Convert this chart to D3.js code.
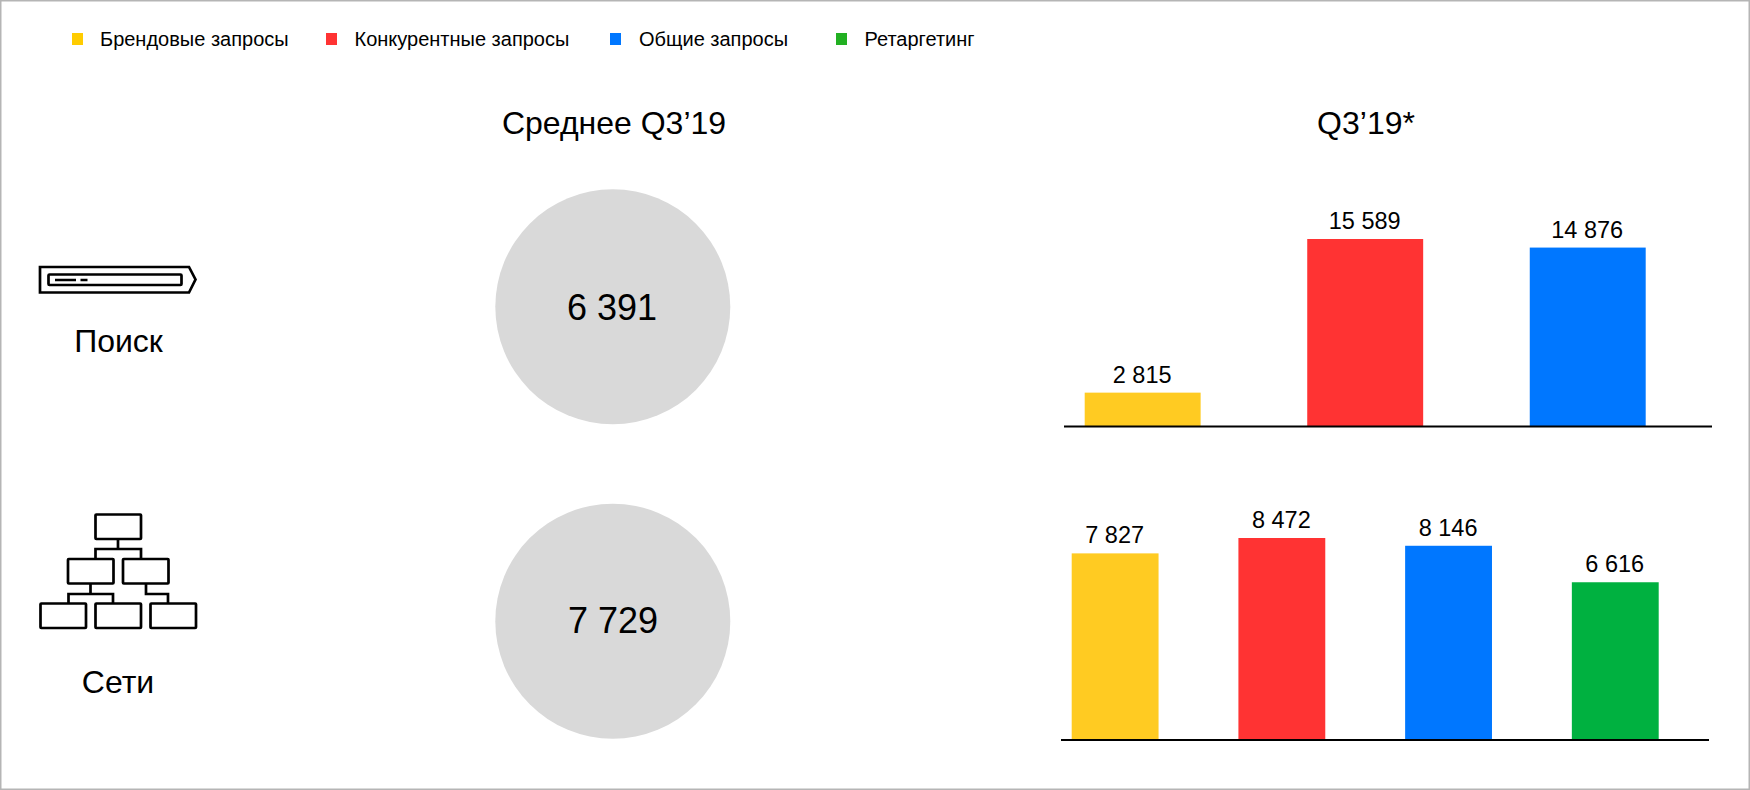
<!DOCTYPE html>
<html><head><meta charset="utf-8">
<script src="https://cdn.jsdelivr.net/npm/d3@7"></script>
<style>
html,body{margin:0;padding:0;background:#fff}
svg{display:block}
text{font-family:"Liberation Sans",Arial,sans-serif;fill:#000}
</style></head><body>
<svg id="c" width="1750" height="790"></svg>
<script>
const legendLabels=["Брендовые запросы","Конкурентные запросы","Общие запросы","Ретаргетинг"];
const legendColors=["#ffcc00","#ff3333","#0077ff","#22b022"];
const searchCats=["Брендовые запросы","Конкурентные запросы","Общие запросы"];
const searchValues=[2815,15589,14876];
const searchColors=["#ffcb22","#ff3333","#0077ff"];
const netCats=["Брендовые запросы","Конкурентные запросы","Общие запросы","Ретаргетинг"];
const netValues=[7827,8472,8146,6616];
const netColors=["#ffcb22","#ff3333","#0077ff","#00b140"];
const avgValues=[6391,7729];
const rowNames=["Поиск","Сети"];
const titles=["Среднее Q3’19","Q3’19*"];

const fmt=d=>d3.format(",")(d).replace(/,/g," ");
const svg=d3.select("#c");
svg.append("rect").attr("x",.75).attr("y",.75).attr("width",1748.5).attr("height",788.5)
  .attr("fill","#fff").attr("stroke","#b5b5b5").attr("stroke-width",1.5);

// legend
const legendX=d3.scaleOrdinal().domain(legendLabels).range([72,326,610,836]);
const legendTextX=d3.scaleOrdinal().domain(legendLabels).range([100,354.5,639,864.5]);
const lg=svg.append("g");
lg.selectAll("rect").data(legendLabels).join("rect")
  .attr("x",d=>legendX(d)).attr("y",33).attr("width",11).attr("height",12)
  .attr("fill",(d,i)=>legendColors[i]);
lg.selectAll("text").data(legendLabels).join("text")
  .attr("x",d=>legendTextX(d)).attr("y",45.5).attr("font-size",20).text(d=>d);

// titles
svg.selectAll("text.title").data(titles).join("text").attr("class","title")
  .attr("x",(d,i)=>[614,1366][i]).attr("y",134).attr("text-anchor","middle")
  .attr("font-size",32).text(d=>d);

// row names
svg.selectAll("text.row").data(rowNames).join("text").attr("class","row")
  .attr("x",(d,i)=>[118.5,118][i]).attr("y",(d,i)=>[352,693][i]).attr("text-anchor","middle")
  .attr("font-size",32).text(d=>d);

// circles
svg.selectAll("circle.avg").data(avgValues).join("circle").attr("class","avg")
  .attr("cx",612.8).attr("cy",(d,i)=>[306.8,621.2][i]).attr("r",117.5).attr("fill","#d9d9d9");
svg.selectAll("text.avg").data(avgValues).join("text").attr("class","avg")
  .attr("x",(d,i)=>[612,613][i]).attr("y",(d,i)=>[320,633][i]).attr("text-anchor","middle")
  .attr("font-size",36).text(fmt);

// bars
function bars(cats,vals,cols,xr,base,line,maxV,maxH){
  const x=d3.scaleBand().domain(cats).range(xr).paddingInner(.479).paddingOuter(0);
  const y=d3.scaleLinear().domain([0,maxV]).range([base,base-maxH]);
  const g=svg.append("g");
  g.selectAll("rect").data(vals).join("rect")
    .attr("x",(d,i)=>x(cats[i])).attr("width",x.bandwidth())
    .attr("y",d=>y(d)).attr("height",d=>base-y(d)).attr("fill",(d,i)=>cols[i]);
  g.selectAll("text").data(vals).join("text")
    .attr("x",(d,i)=>x(cats[i])+x.bandwidth()/2-.5).attr("y",d=>y(d)-10)
    .attr("text-anchor","middle").attr("font-size",23.5).text(fmt);
  g.append("line").attr("x1",line[0]).attr("x2",line[1]).attr("y1",base).attr("y2",base)
    .attr("stroke","#000").attr("stroke-width",2);
}
bars(searchCats,searchValues,searchColors,[1084.7,1645.7],426.5,[1064,1712],15589,187.5);
bars(netCats,netValues,netColors,[1071.7,1658.7],740,[1061,1709],8472,202);

// search icon
const ic=svg.append("g").attr("fill","none").attr("stroke","#000").attr("stroke-width",2.7);
ic.append("path").attr("d","M40 267H189L195.5 279.5L189 292.5H40Z");
ic.append("rect").attr("x",48.5).attr("y",274.5).attr("width",133).attr("height",10.5).attr("rx",1);
ic.append("path").attr("d","M55 280H76M80.5 280H87.5");

// network icon
const boxes=[[95.5,514.5],[68,559],[123,559],[40.5,603.5],[95.5,603.5],[150.5,603.5]];
const net=svg.append("g").attr("fill","none").attr("stroke","#000").attr("stroke-width",2.7);
net.selectAll("rect").data(boxes).join("rect")
  .attr("x",d=>d[0]).attr("y",d=>d[1]).attr("width",45.5).attr("height",24.5).attr("rx",.8);
net.append("path").attr("d","M118 539V549M95.5 559V549H141V559M90.5 584V594M68.5 603V594H113V603M146 584V594H168V603");
</script>
</body></html>
